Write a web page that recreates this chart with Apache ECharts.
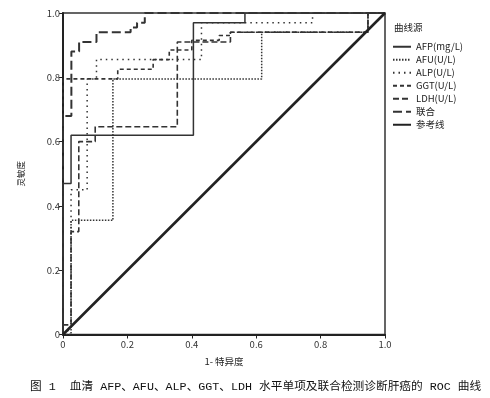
<!DOCTYPE html>
<html><head><meta charset="utf-8">
<script src="https://cdn.jsdelivr.net/npm/echarts@6/dist/echarts.min.js"></script>
<style>html,body{margin:0;padding:0;background:#fff}#c{width:490px;height:398px}</style>
</head><body><div id="c"></div>
<script>
// Data (1 - specificity, sensitivity) for each ROC curve
const seriesNames = ['AFP(mg/L)', 'AFU(U/L)', 'ALP(U/L)', 'GGT(U/L)', 'LDH(U/L)', '联合', '参考线'];
const afpX = [0, 0, 0.025, 0.025, 0.405, 0.405, 0.565, 0.565, 1];
const afpY = [0, 0.47, 0.47, 0.62, 0.62, 0.97, 0.97, 1, 1];
const afuX = [0, 0.025, 0.025, 0.155, 0.155, 0.617, 0.617, 0.947, 0.947, 1];
const afuY = [0, 0, 0.355, 0.355, 0.795, 0.795, 0.94, 0.94, 1, 1];
const alpX = [0, 0.025, 0.025, 0.075, 0.075, 0.104, 0.104, 0.43, 0.43, 0.775, 0.775, 1];
const alpY = [0, 0.02, 0.45, 0.45, 0.795, 0.795, 0.855, 0.855, 0.97, 0.97, 1, 1];
const ggtX = [0, 0, 0.17, 0.17, 0.28, 0.28, 0.33, 0.33, 0.4, 0.4, 0.485, 0.485, 0.52, 0.52, 0.947, 0.947, 1];
const ggtY = [0, 0.795, 0.795, 0.825, 0.825, 0.855, 0.855, 0.885, 0.885, 0.915, 0.915, 0.93, 0.93, 0.94, 0.94, 1, 1];
const ldhX = [0, 0, 0.025, 0.025, 0.049, 0.049, 0.1, 0.1, 0.355, 0.355, 0.52, 0.52, 0.947, 0.947, 1];
const ldhY = [0, 0.03, 0.03, 0.32, 0.32, 0.6, 0.6, 0.646, 0.646, 0.91, 0.91, 0.94, 0.94, 1, 1];
const combX = [0, 0, 0.026, 0.026, 0.05, 0.05, 0.104, 0.104, 0.21, 0.21, 0.23, 0.23, 0.254, 0.254, 1];
const combY = [0, 0.68, 0.68, 0.88, 0.88, 0.91, 0.91, 0.94, 0.94, 0.955, 0.955, 0.97, 0.97, 1, 1];
const refX = [0, 1];
const refY = [0, 1];
const axisTicks = [0, 0.2, 0.4, 0.6, 0.8, 1.0];
const xName = '1- 特异度';
const yName = '灵敏度';
const legendTitle = '曲线源';
const caption = '图 1  血清 AFP、AFU、ALP、GGT、LDH 水平单项及联合检测诊断肝癌的 ROC 曲线';

const zip = (xs, ys) => xs.map((x, i) => [x, ys[i]]);
const curves = [
  {x: afpX, y: afpY, type: 'solid', w: 1.5},
  {x: afuX, y: afuY, type: [1.5, 1.5], w: 1.5},
  {x: alpX, y: alpY, type: [1.5, 4], w: 1.5},
  {x: ggtX, y: ggtY, type: [4, 3], w: 1.6},
  {x: ldhX, y: ldhY, type: [6, 3], w: 1.6},
  {x: combX, y: combY, type: [9, 4], w: 2},
  {x: refX, y: refY, type: 'solid', w: 2.6}
];

const chart = echarts.init(document.getElementById('c'), null, {renderer: 'canvas'});
const lbl = v => v === 0 ? '0' : v.toFixed(1);
chart.setOption({
  animation: false,
  backgroundColor: '#fff',
  textStyle: {fontFamily: 'Noto Sans CJK SC, Noto Sans, sans-serif'},
  title: [
    {text: caption, left: 25, top: 376, textStyle: {fontSize: 11.7, fontWeight: 'normal', color: '#111', fontFamily: "'Liberation Mono', 'Noto Sans CJK SC'"}},
    {text: legendTitle, left: 389, top: 18, textStyle: {fontSize: 9.5, fontWeight: 'normal', color: '#222'}}
  ],
  legend: {
    orient: 'vertical', left: 387, top: 37,
    itemWidth: 18, itemHeight: 8, itemGap: 3.5,
    itemStyle: {opacity: 0},
    textStyle: {fontSize: 9.5, color: '#222'},
    data: seriesNames
  },
  grid: {left: 63, right: 105, top: 13, bottom: 63.5, show: true, borderColor: '#333', borderWidth: 1.5},
  xAxis: {
    type: 'value', min: 0, max: 1, interval: 0.2,
    name: xName, nameLocation: 'middle', nameGap: 22,
    nameTextStyle: {fontSize: 9.5, color: '#222'},
    axisLine: {show: true, lineStyle: {color: '#222', width: 2}},
    axisTick: {show: true, length: 4, lineStyle: {color: '#222'}},
    axisLabel: {fontSize: 9.5, color: '#333', margin: 5, formatter: lbl},
    splitLine: {show: false}
  },
  yAxis: {
    type: 'value', min: 0, max: 1, interval: 0.2,
    name: yName, nameLocation: 'middle', nameGap: 38,
    nameTextStyle: {fontSize: 8.5, color: '#222'},
    axisLine: {show: true, lineStyle: {color: '#222', width: 2}},
    axisTick: {show: true, length: 4, lineStyle: {color: '#222'}},
    axisLabel: {fontSize: 9.5, color: '#333', margin: 3, formatter: lbl},
    splitLine: {show: false}
  },
  series: curves.map((c, i) => ({
    name: seriesNames[i],
    type: 'line',
    data: zip(c.x, c.y),
    symbol: 'none',
    lineStyle: {color: i === 6 ? '#222' : '#333', width: c.w, type: c.type},
    itemStyle: {color: '#333'},
    z: i === 6 ? 3 : 2
  }))
});
</script></body></html>
